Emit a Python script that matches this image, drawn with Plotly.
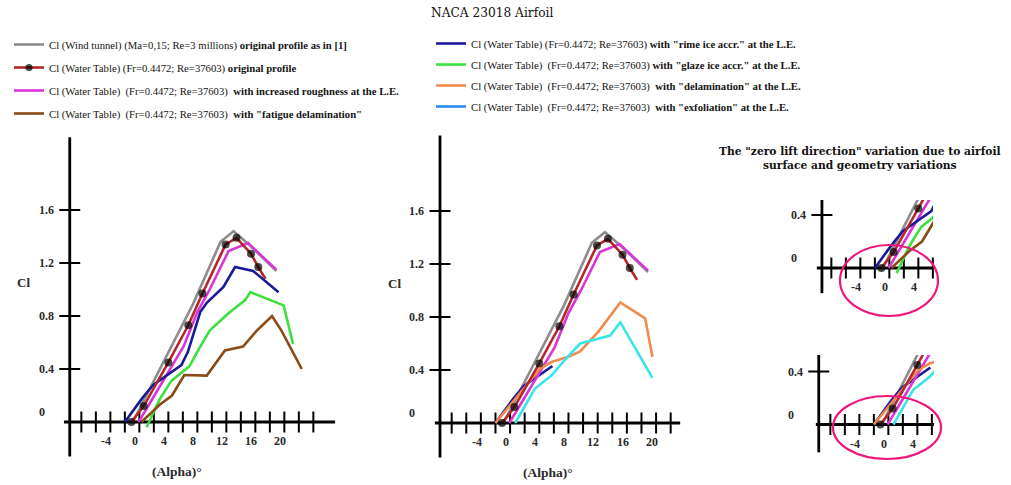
import plotly.graph_objects as go

W, H = 1011, 485

# ---------------- data (alpha in degrees, Cl) ----------------
gray_alpha = [-0.3, 4.0, 8.0, 11.8, 13.6, 15.9, 19.5]
gray_cl = [0.0, 0.46, 0.89, 1.36, 1.44, 1.33, 1.14]

red_alpha = [-0.5, 1.2, 4.6, 7.35, 9.3, 12.5, 14.0, 16.0, 17.0, 18.0]
red_cl = [0.0, 0.12, 0.45, 0.73, 0.97, 1.34, 1.39, 1.27, 1.17, 1.08]

mag_alpha = [0.5, 3.5, 6.7, 8.6, 10.3, 12.9, 15.6, 19.5]
mag_cl = [0.0, 0.28, 0.57, 0.83, 1.0, 1.29, 1.35, 1.15]

navy_alpha = [-1.4, 1.0, 2.5, 6.4, 7.3, 9.0, 9.9, 12.2, 13.8, 16.3, 19.8]
navy_cl = [0.0, 0.18, 0.28, 0.43, 0.53, 0.83, 0.90, 1.02, 1.17, 1.14, 0.98]

green_alpha = [1.6, 3.4, 5.0, 7.5, 8.7, 10.3, 11.7, 12.9, 15.2, 15.9, 20.5, 21.8]
green_cl = [-0.04, 0.17, 0.31, 0.42, 0.54, 0.69, 0.76, 0.82, 0.92, 0.98, 0.88, 0.59]

brown_alpha = [0.9, 3.4, 5.1, 6.8, 9.9, 12.4, 14.9, 16.8, 18.9, 20.2, 23.0]
brown_cl = [0.0, 0.13, 0.20, 0.355, 0.35, 0.54, 0.57, 0.69, 0.80, 0.69, 0.40]

orange_alpha = [-1.4, 1.0, 4.7, 6.3, 8.6, 10.2, 12.7, 15.7, 19.1, 20.1]
orange_cl = [0.0, 0.16, 0.41, 0.46, 0.50, 0.54, 0.69, 0.91, 0.79, 0.50]

cyan_alpha = [1.3, 4.0, 6.3, 8.0, 10.2, 14.3, 15.7, 20.1]
cyan_cl = [0.0, 0.26, 0.36, 0.47, 0.60, 0.66, 0.76, 0.34]

x_tick_labels = [-4, 0, 4, 8, 12, 16, 20]
y_tick_labels = [0.4, 0.8, 1.2, 1.6]
zoom_x_tick_labels = [-4, 0, 4]
zoom_y_tick_labels = [0.4]

legend1_names = [
    "Cl (Wind tunnel) (Ma=0,15; Re=3 millions) <b>original profile as in [1]</b>",
    "Cl (Water Table) (Fr=0.4472; Re=37603) <b>original profile</b>",
    "Cl (Water Table)  (Fr=0.4472; Re=37603)  <b>with increased roughness at the L.E.</b>",
    "Cl (Water Table)  (Fr=0.4472; Re=37603)  <b>with \"fatigue delamination\"</b>",
]
legend2_names = [
    "Cl (Water Table) (Fr=0.4472; Re=37603) <b>with \"rime ice accr.\" at the L.E.</b>",
    "Cl (Water Table)  (Fr=0.4472; Re=37603) <b>with \"glaze ice accr.\" at the L.E.</b>",
    "Cl (Water Table)  (Fr=0.4472; Re=37603)  <b>with \"delamination\" at the L.E.</b>",
    "Cl (Water Table)  (Fr=0.4472; Re=37603)  <b>with \"exfoliation\" at the L.E.</b>",
]

# ---------------- styles ----------------
C_GRAY = "#8d8d8d"
C_RED = "#b3262a"
C_MAG = "#d935d9"
C_NAVY = "#1a1a98"
C_GREEN = "#3ee03e"
C_BROWN = "#8b4a16"
C_ORANGE = "#f28a4e"
C_CYAN = "#36e6ea"
C_EXFOL_LEG = "#2a8cf0"
C_ELLIPSE = "#f0157c"
SERIF = "Liberation Serif, Times New Roman, serif"
WIDE_SERIF = "DejaVu Serif, serif"
LW = 2.6

# panel geometry (pixel calibration of the original drawing)
panels = [
    dict(name="1", a0=135.0, c0=422.0, sx=7.25, sy=132.5, box=(58, 345, 130, 478),
         yax=-9.0, xline=(-9.8, 27.6), yline=(-0.26, 2.15),
         xticks=[-7.4 + 2 * k for k in range(17)], yticks=y_tick_labels,
         xlab=x_tick_labels, ylab=y_tick_labels, full=True),
    dict(name="2", a0=505.7, c0=423.0, sx=7.3, sy=132.5, box=(428, 690, 130, 478),
         yax=-9.0, xline=(-9.7, 23.9), yline=(-0.26, 2.17),
         xticks=[-7.4 + 2 * k for k in range(16)], yticks=y_tick_labels,
         xlab=x_tick_labels, ylab=y_tick_labels, full=True),
    dict(name="3", a0=885.0, c0=268.0, sx=7.25, sy=132.5, box=(775, 933, 200, 300),
         yax=-8.7, xline=(-9.4, 6.8), yline=(-0.19, 0.52),
         xticks=[-7.4 + 2 * k for k in range(8)], yticks=zoom_y_tick_labels,
         xlab=zoom_x_tick_labels, ylab=zoom_y_tick_labels, full=False),
    dict(name="4", a0=884.0, c0=424.5, sx=7.25, sy=132.5, box=(775, 934, 355, 460),
         yax=-9.0, xline=(-9.4, 6.9), yline=(-0.21, 0.53),
         xticks=[-7.4 + 2 * k for k in range(8)], yticks=zoom_y_tick_labels,
         xlab=zoom_x_tick_labels, ylab=zoom_y_tick_labels, full=False),
]

fig = go.Figure()
layout = dict()
shapes = []
annotations = []


def axref(p):
    return ("x" if p["name"] == "1" else "x" + p["name"]), ("y" if p["name"] == "1" else "y" + p["name"])


def add_line(p, xs, ys, color, name=None, legend=None, rank=None, markers=False):
    xa, ya = axref(p)
    show = name is not None
    kw = dict(x=xs, y=ys, xaxis=xa, yaxis=ya, mode="lines", hoverinfo="skip",
              line=dict(color=color, width=LW), showlegend=show)
    if markers:
        kw["mode"] = "lines+markers"
        kw["marker"] = dict(color="black", size=[8] * (len(xs) - 1) + [0],
                            line=dict(width=0))
    if show:
        kw.update(name=name, legend=legend, legendrank=rank, legendgroup=name)
    fig.add_trace(go.Scatter(**kw))


TICKFONT = dict(family=SERIF, size=12, color="#2a2a2a")

for p in panels:
    n = p["name"]
    x0, x1, y0, y1 = p["box"]
    xdom = [x0 / W, x1 / W]
    ydom = [1 - y1 / H, 1 - y0 / H]
    xr = [(x0 - p["a0"]) / p["sx"], (x1 - p["a0"]) / p["sx"]]
    yr = [(p["c0"] - y1) / p["sy"], (p["c0"] - y0) / p["sy"]]
    xa, ya = axref(p)
    layout["xaxis" if n == "1" else "xaxis" + n] = dict(domain=xdom, range=xr, visible=False,
                                                          anchor=ya, fixedrange=True)
    layout["yaxis" if n == "1" else "yaxis" + n] = dict(domain=ydom, range=yr, visible=False,
                                                          anchor=xa, fixedrange=True)
    # axis lines
    shapes.append(dict(type="line", xref=xa, yref=ya, x0=p["xline"][0], x1=p["xline"][1],
                       y0=0, y1=0, line=dict(color="black", width=2.8), layer="below"))
    shapes.append(dict(type="line", xref=xa, yref=ya, x0=p["yax"], x1=p["yax"],
                       y0=p["yline"][0], y1=p["yline"][1], line=dict(color="black", width=2.8),
                       layer="below"))
    # tick marks
    fig.add_trace(go.Scatter(x=p["xticks"], y=[0] * len(p["xticks"]), xaxis=xa, yaxis=ya,
                             mode="markers", cliponaxis=False, showlegend=False, hoverinfo="skip",
                             marker=dict(symbol="line-ns", size=15,
                                         line=dict(color="black", width=2))))
    fig.add_trace(go.Scatter(x=[p["yax"]] * len(p["yticks"]), y=p["yticks"], xaxis=xa, yaxis=ya,
                             mode="markers", cliponaxis=False, showlegend=False, hoverinfo="skip",
                             marker=dict(symbol="line-ew", size=15,
                                         line=dict(color="black", width=2))))
    # tick labels
    for v in p["xlab"]:
        annotations.append(dict(x=v, y=0, xref=xa, yref=ya, text="<b>%s</b>" % v,
                                showarrow=False, yshift=-19, xanchor="center", yanchor="middle",
                                font=TICKFONT))
    for v in p["ylab"]:
        annotations.append(dict(x=p["yax"], y=v, xref=xa, yref=ya, text="<b>%s</b>" % v,
                                showarrow=False, xshift=-33, xanchor="left", yanchor="middle",
                                font=TICKFONT))
    annotations.append(dict(x=p["yax"], y=0, xref=xa, yref=ya, text="<b>0</b>",
                            showarrow=False, xshift=-33, yshift=10, xanchor="left",
                            yanchor="middle", font=TICKFONT))
    if p["full"]:
        annotations.append(dict(x=p["yax"], y=1.05, xref=xa, yref=ya, text="<b>Cl</b>",
                                showarrow=False, xshift=-46, xanchor="center", yanchor="middle",
                                font=dict(family=SERIF, size=13, color="#2a2a2a")))
        annotations.append(dict(x=5.8, y=0, xref=xa, yref=ya, text="<b>(Alpha)°</b>",
                                showarrow=False, yshift=-49, xanchor="center", yanchor="middle",
                                font=dict(family=SERIF, size=13.5, color="#2a2a2a")))

P1, P2, P3, P4 = panels

# left panel and its zoom
for p, leg in ((P1, True), (P3, False)):
    add_line(p, gray_alpha, gray_cl, C_GRAY, legend1_names[0] if leg else None, "legend", 1)
    add_line(p, mag_alpha, mag_cl, C_MAG, legend1_names[2] if leg else None, "legend", 3)
    add_line(p, navy_alpha, navy_cl, C_NAVY, legend2_names[0] if leg else None, "legend2", 1)
    add_line(p, green_alpha, green_cl, C_GREEN, legend2_names[1] if leg else None, "legend2", 2)
    add_line(p, brown_alpha, brown_cl, C_BROWN, legend1_names[3] if leg else None, "legend", 4)
    add_line(p, red_alpha, red_cl, C_RED, legend1_names[1] if leg else None, "legend", 2,
             markers=True)

# middle panel and its zoom
navy_part = [i for i, a in enumerate(navy_alpha) if a <= 6.4]
for p, leg in ((P2, True), (P4, False)):
    add_line(p, gray_alpha, gray_cl, C_GRAY)
    add_line(p, [navy_alpha[i] for i in navy_part], [navy_cl[i] for i in navy_part], C_NAVY)
    add_line(p, mag_alpha, mag_cl, C_MAG)
    add_line(p, orange_alpha, orange_cl, C_ORANGE, legend2_names[2] if leg else None, "legend2", 3)
    add_line(p, cyan_alpha, cyan_cl, C_CYAN)
    add_line(p, red_alpha, red_cl, C_RED, markers=True)

# legend-only entry for the exfoliation series (drawn blue in the key)
fig.add_trace(go.Scatter(x=[None], y=[None], xaxis="x2", yaxis="y2", mode="lines",
                         line=dict(color=C_EXFOL_LEG, width=LW), name=legend2_names[3],
                         legend="legend2", legendrank=4, legendgroup="exf"))


def ell(x0, x1, y0, y1):
    return dict(type="circle", xref="paper", yref="paper", x0=x0 / W, x1=x1 / W,
                y0=1 - y1 / H, y1=1 - y0 / H, line=dict(color=C_ELLIPSE, width=2.2))


shapes.append(ell(840, 938, 245, 316))
shapes.append(ell(833, 941, 396, 459))

annotations.append(dict(x=492 / W, y=1 - 13 / H, xref="paper", yref="paper",
                        text="NACA 23018 Airfoil", showarrow=False, xanchor="center",
                        yanchor="middle", font=dict(family=WIDE_SERIF, size=12.2, color="#111")))
annotations.append(dict(x=860 / W, y=1 - 159 / H, xref="paper", yref="paper",
                        text="<b>The \"zero lift direction\" variation due to airfoil<br>"
                             "surface and geometry variations</b>",
                        showarrow=False, xanchor="center", yanchor="middle", align="center",
                        font=dict(family=WIDE_SERIF, size=10.7, color="#111")))

legfont = dict(family=SERIF, size=10.7, color="#151515")
layout.update(
    width=W, height=H, margin=dict(l=0, r=0, t=0, b=0),
    paper_bgcolor="white", plot_bgcolor="white",
    shapes=shapes, annotations=annotations,
    legend=dict(x=9 / W, y=1 - 30 / H, xanchor="left", yanchor="top", font=legfont,
                bgcolor="rgba(0,0,0,0)", tracegroupgap=4, itemclick=False,
                itemdoubleclick=False),
    legend2=dict(x=431 / W, y=1 - 29 / H, xanchor="left", yanchor="top", font=legfont,
                 bgcolor="rgba(0,0,0,0)", tracegroupgap=2, itemclick=False,
                 itemdoubleclick=False),
)
fig.update_layout(**layout)
fig.write_html("out.html", config={"displayModeBar": False},
               post_script="document.body.style.margin='0px';document.body.style.padding='0px';")
